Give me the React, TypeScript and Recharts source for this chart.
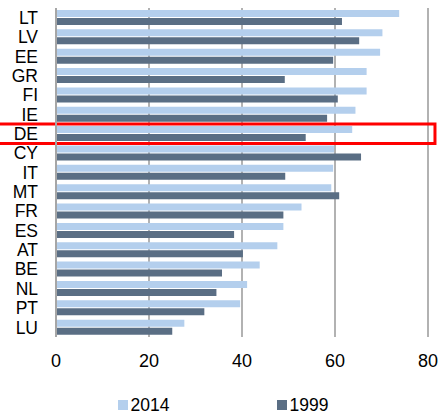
import {
  BarChart,
  Bar,
  XAxis,
  YAxis,
  CartesianGrid,
  Legend,
  ReferenceArea,
} from "recharts";

const COUNTRIES = ["LT", "LV", "EE", "GR", "FI", "IE", "DE", "CY", "IT", "MT", "FR", "ES", "AT", "BE", "NL", "PT", "LU"];
const Y2014 = [73.8, 70.2, 69.7, 66.8, 66.8, 64.4, 63.7, 59.8, 59.6, 59.2, 52.8, 48.9, 47.6, 43.8, 41.1, 39.6, 27.6];
const Y1999 = [61.5, 65.2, 59.6, 49.2, 60.6, 58.3, 53.7, 65.6, 49.3, 60.9, 48.9, 38.3, 40.2, 35.7, 34.5, 31.9, 25.0];
const SERIES_ORDER = ["2014", "1999"];
const X_TICKS = [0, 20, 40, 60, 80];
const HIGHLIGHT = "DE";

const FONT = "'Liberation Sans', Arial, sans-serif";

const data = COUNTRIES.map((c, i) => ({ country: c, y2014: Y2014[i], y1999: Y1999[i] }));

function renderLegend(props: any) {
  // recharts reverses the items in vertical layout, put them back in series order
  const items = [...(props.payload || [])].sort(
    (a: any, b: any) => SERIES_ORDER.indexOf(a.value) - SERIES_ORDER.indexOf(b.value),
  );
  return (
    <div
      style={{
        height: 24,
        display: "flex",
        alignItems: "center",
        justifyContent: "center",
        gap: 107,
        paddingLeft: 8,
        fontFamily: FONT,
        fontSize: 17.5,
        color: "#000",
      }}
    >
      {items.map((it: any) => (
        <div key={it.value} style={{ display: "flex", alignItems: "center" }}>
          <span style={{ width: 10, height: 10, background: it.color, marginRight: 3, display: "inline-block" }} />
          <span>{it.value}</span>
        </div>
      ))}
    </div>
  );
}

export default function App() {
  return (
    <div style={{ position: "absolute", left: 0, top: 0, width: 438, height: 417, background: "#fff" }}>
      <BarChart
        width={438}
        height={417}
        data={data}
        layout="vertical"
        margin={{ top: 8, right: 10, bottom: 0, left: 0 }}
        barSize={7}
        barGap={1}
      >
        <CartesianGrid horizontal={false} stroke="#999" strokeWidth={1.5} />
        <XAxis
          type="number"
          domain={[0, 80]}
          ticks={X_TICKS}
          axisLine={false}
          tickLine={false}
          tickSize={0}
          tickMargin={17}
          height={56}
          tick={{ fill: "#000", fontSize: 18, fontFamily: FONT }}
        />
        <YAxis
          type="category"
          dataKey="country"
          width={56}
          axisLine={{ stroke: "#a6a6a6", strokeWidth: 2 }}
          tickLine={false}
          tickSize={0}
          tickMargin={18}
          interval={0}
          tick={{ fill: "#000", fontSize: 17.5, fontFamily: FONT }}
        />
        <Legend verticalAlign="bottom" content={renderLegend} wrapperStyle={{ left: 0, width: 438 }} />
        <Bar dataKey="y2014" name="2014" fill="#b4cfed" isAnimationActive={false} />
        <Bar dataKey="y1999" name="1999" fill="#5a6e84" isAnimationActive={false} />
        <ReferenceArea
          y1={HIGHLIGHT}
          y2={HIGHLIGHT}
          x1={-13}
          x2={81.5}
          fill="none"
          stroke="#ff0000"
          strokeWidth={3}
          ifOverflow="visible"
        />
      </BarChart>
    </div>
  );
}
